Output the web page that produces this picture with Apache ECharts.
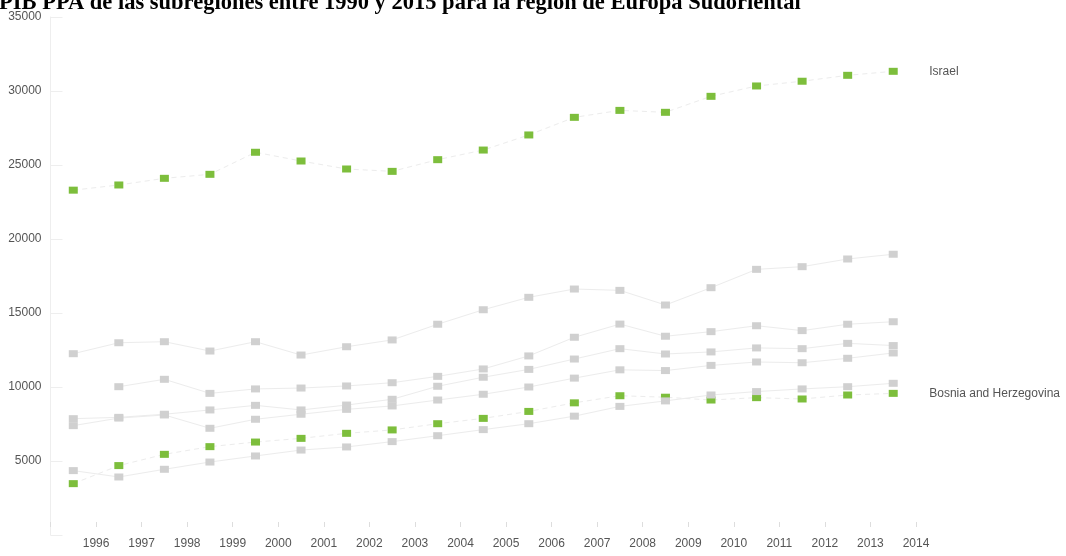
<!DOCTYPE html>
<html>
<head>
<meta charset="utf-8">
<script src="https://cdn.jsdelivr.net/npm/echarts@6/dist/echarts.min.js"></script>
<style>
  html, body { margin: 0; padding: 0; background: #ffffff; }
  #chart { width: 1066px; height: 556px; }
</style>
</head>
<body>
<div id="chart"></div>
<script>
// ---- data ----
const years = ['1996','1997','1998','1999','2000','2001','2002','2003','2004','2005','2006','2007','2008','2009','2010','2011','2012','2013','2014'];
const tickLabels = ['', '1996','1997','1998','1999','2000','2001','2002','2003','2004','2005','2006','2007','2008','2009','2010','2011','2012','2013','2014'];
const yTicks = [0, 5000, 10000, 15000, 20000, 25000, 30000, 35000];

const israel = [23300, 23650, 24100, 24370, 25860, 25270, 24730, 24570, 25360, 26010, 27030, 28220, 28690, 28560, 29640, 30340, 30660, 31060, 31330];
const bosnia = [3470, 4690, 5450, 5970, 6280, 6530, 6870, 7100, 7520, 7880, 8350, 8930, 9410, 9310, 9120, 9280, 9190, 9460, 9570];

const otherA = [12250, 12990, 13060, 12430, 13060, 12160, 12720, 13180, 14240, 15220, 16060, 16620, 16530, 15540, 16710, 17950, 18130, 18650, 18970];
const otherB = [null, 10020, 10520, 9570, 9870, 9930, 10070, 10290, 10720, 11220, 12100, 13360, 14250, 13430, 13740, 14140, 13810, 14240, 14410];
const otherC = [7860, 7950, 8160, 8450, 8760, 8450, 8780, 9170, 10050, 10660, 11190, 11890, 12590, 12230, 12370, 12640, 12590, 12950, 12800];
const otherD = [7390, 7900, 8110, 7210, 7820, 8160, 8490, 8720, 9120, 9510, 10000, 10600, 11160, 11110, 11460, 11690, 11640, 11940, 12300];
const otherE = [4350, 3920, 4440, 4930, 5340, 5740, 5950, 6310, 6710, 7120, 7520, 8030, 8690, 9060, 9460, 9690, 9870, 10020, 10250];

const titleText = 'PIB PPA de las subregiones entre 1990 y 2015 para la región de Europa Sudoriental';

// ---- styles ----
const GREEN = '#7dbe3c';
const GREY = '#d0d0d0';
const LINE = '#ececec';
const TEXT = '#555555';
const SANS = 'Liberation Sans';

function greenSeries(name, data) {
  return {
    name: name, type: 'line', data: data, xAxisIndex: 0, yAxisIndex: 0,
    symbol: 'rect', symbolSize: [9, 7], showSymbol: true,
    itemStyle: { color: GREEN },
    lineStyle: { color: LINE, width: 1, type: [5, 4] },
    endLabel: { show: true, formatter: '{a}', distance: 36, color: TEXT, fontFamily: SANS, fontSize: 12 },
    emphasis: { disabled: true }, z: 2
  };
}
function greySeries(name, data) {
  return {
    name: name, type: 'line', data: data, xAxisIndex: 0, yAxisIndex: 0,
    symbol: 'rect', symbolSize: [9, 7], showSymbol: true, connectNulls: false,
    itemStyle: { color: GREY },
    lineStyle: { color: LINE, width: 1 },
    emphasis: { disabled: true }, z: 3
  };
}

const chart = echarts.init(document.getElementById('chart'), null, { renderer: 'canvas' });
chart.setOption({
  animation: false,
  backgroundColor: '#ffffff',
  title: {
    text: titleText, left: -1, top: -8, padding: 0,
    textStyle: { fontFamily: 'Liberation Serif', fontWeight: 'bold', fontSize: 22.5, color: '#000000' }
  },
  grid: { left: 50.5, right: 150, top: 17, bottom: 21, containLabel: false },
  xAxis: [
    {
      type: 'category', data: years, boundaryGap: true, show: false
    },
    {
      type: 'category', data: tickLabels, boundaryGap: false, position: 'bottom', offset: -8,
      axisLine: { show: false },
      axisTick: { show: true, inside: true, length: 5, interval: 0, lineStyle: { color: '#dddddd' } },
      axisLabel: { interval: 0, margin: 11, color: TEXT, fontFamily: SANS, fontSize: 12 },
      splitLine: { show: false }
    }
  ],
  yAxis: {
    type: 'value', min: yTicks[0], max: yTicks[yTicks.length - 1], interval: 5000,
    axisLine: { show: true, lineStyle: { color: '#eeeeee' } },
    axisTick: { show: true, inside: true, length: 12, lineStyle: { color: '#eeeeee' } },
    axisLabel: { margin: 9, color: TEXT, fontFamily: SANS, fontSize: 12,
      formatter: v => (v === 0 ? '' : String(v)) },
    splitLine: { show: false }
  },
  series: [
    greenSeries('Israel', israel),
    greenSeries('Bosnia and Herzegovina', bosnia),
    greySeries('A', otherA),
    greySeries('B', otherB),
    greySeries('C', otherC),
    greySeries('D', otherD),
    greySeries('E', otherE)
  ]
});
</script>
</body>
</html>
